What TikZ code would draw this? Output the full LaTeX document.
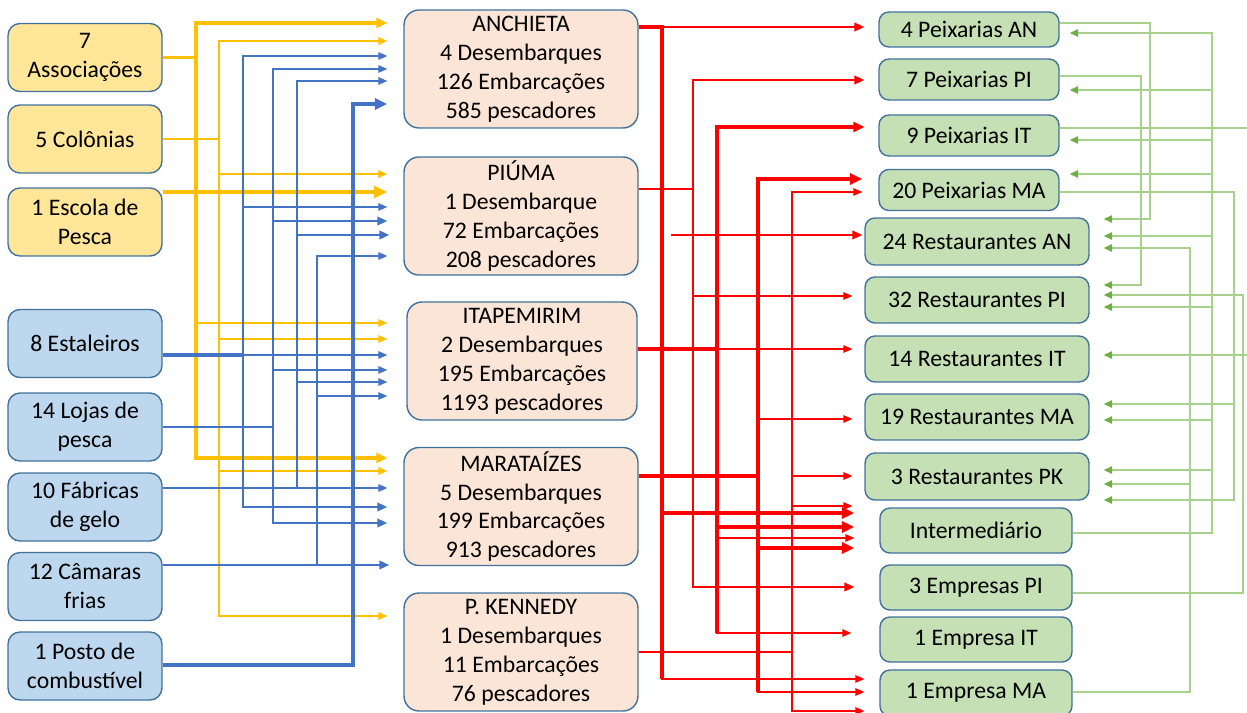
\documentclass[tikz,border=0pt]{standalone}
\usepackage{fontspec}
\setmainfont{Carlito}
\usepackage{tikz}
\usetikzlibrary{arrows.meta}

\definecolor{boxline}{HTML}{41719C}
\definecolor{ylwfill}{HTML}{FFE699}
\definecolor{blufill}{HTML}{BDD7EE}
\definecolor{portfill}{HTML}{FBE5D6}
\definecolor{grnfill}{HTML}{C5E0B4}
\definecolor{ylw}{HTML}{FFC000}
\definecolor{blu}{HTML}{4472C4}
\definecolor{grn}{HTML}{A9D18E}
\definecolor{grnhead}{HTML}{70AD47}

\tikzset{
  box/.style={draw=boxline,line width=0.8pt,align=center,inner sep=0pt,
    font=\fontsize{13.5}{16.5}\selectfont},
  supply/.style={box,fill=#1,rounded corners=0.24cm,minimum width=3.08cm,minimum height=1.36cm},
  port/.style={box,fill=portfill,rounded corners=0.3cm,minimum width=4.68cm,minimum height=2.36cm},
  buyer/.style={box,fill=grnfill,rounded corners=0.2cm,minimum width=#1,minimum height=0.82cm},
  fine/.style={line width=0.8pt,-{Triangle[length=0.18cm,width=0.15cm]}},
  mid/.style={line width=1.3pt,-{Triangle[length=0.2cm,width=0.17cm]}},
  bold/.style={line width=1.8pt,-{Triangle[length=0.22cm,width=0.2cm]}},
  heavy/.style={line width=2.3pt,-{Triangle[length=0.25cm,width=0.22cm]}},
  vheavy/.style={line width=2.8pt,-{Triangle[length=0.27cm,width=0.24cm]}},
  back/.style={grn,line width=0.8pt,-{Triangle[length=0.17cm,width=0.15cm,color=grnhead]}},
}

\begin{document}
\begin{tikzpicture}[x=0.02cm,y=-0.02cm]
  \useasboundingbox (0,0) rectangle (1247,713);

  % suppliers
  \node[supply=ylwfill] at (85,57.5) (assoc){7\\Associações};
  \node[supply=ylwfill] at (85,139) (colon){5 Colônias};
  \node[supply=ylwfill] at (85,222) (escola){1 Escola de\\Pesca};
  \node[supply=blufill] at (85,343.5) (estal){8 Estaleiros};
  \node[supply=blufill] at (85,427) (lojas){14 Lojas de\\pesca};
  \node[supply=blufill] at (85,507) (fabr){10 Fábricas\\de gelo};
  \node[supply=blufill] at (85,586.5) (camar){12 Câmaras\\frias};
  \node[supply=blufill] at (85,666) (posto){1 Posto de\\combustível};

  % ports
  \node[port] at (521,69) (anch){ANCHIETA\\4 Desembarques\\126 Embarcações\\585 pescadores};
  \node[port] at (521,216) (pium){PIÚMA\\1 Desembarque\\72 Embarcações\\208 pescadores};
  \node[port,minimum width=4.6cm] at (522,361) (itap){ITAPEMIRIM\\2 Desembarques\\195 Embarcações\\1193 pescadores};
  \node[port] at (521,506.5) (mara){MARATAÍZES\\5 Desembarques\\199 Embarcações\\913 pescadores};
  \node[port] at (521,652) (kenn){P. KENNEDY\\1 Desembarques\\11 Embarcações\\76 pescadores};

  % buyers
  \node[buyer=3.6cm,minimum height=0.7cm] at (969,29.5) (peixAN){4 Peixarias AN};
  \node[buyer=3.6cm] at (969,79.5) (peixPI){7 Peixarias PI};
  \node[buyer=3.6cm] at (969,135.5) (peixIT){9 Peixarias IT};
  \node[buyer=3.6cm] at (969,190) (peixMA){20 Peixarias MA};
  \node[buyer=4.48cm,minimum height=0.94cm] at (977,241.5) (restAN){24 Restaurantes AN};
  \node[buyer=4.48cm,minimum height=0.92cm] at (977,300) (restPI){32 Restaurantes PI};
  \node[buyer=4.48cm,minimum height=0.92cm] at (977,359) (restIT){14 Restaurantes IT};
  \node[buyer=4.48cm,minimum height=0.92cm] at (977,417) (restMA){19 Restaurantes MA};
  \node[buyer=4.48cm,minimum height=0.94cm] at (977,476.5) (restPK){3 Restaurantes PK};
  \node[buyer=3.84cm,minimum height=0.9cm] at (976,530.5) (inter){Intermediário};
  \node[buyer=3.84cm,minimum height=0.9cm] at (976,587.5) (empPI){3 Empresas PI};
  \node[buyer=3.84cm,minimum height=0.9cm] at (976,639.5) (empIT){1 Empresa IT};
  \node[buyer=3.84cm,minimum height=0.92cm] at (976,693) (empMA){1 Empresa MA};

  % yellow
  \draw [ylw,bold,shorten >=0.32cm] (assoc.east) -| (196,23) -- (anch.west |- 0,23);
  \draw [ylw,fine,shorten >=0.38cm] (assoc.east) -| (196,323) -- (itap.west |- 0,323);
  \draw [ylw,bold,shorten >=0.32cm] (assoc.east) -| (196,458) -- (mara.west |- 0,458);
  \draw [ylw,fine,shorten >=0.32cm] (colon.east) -| (219,41) -- (anch.west |- 0,41);
  \draw [ylw,fine,shorten >=0.32cm] (colon.east) -| (219,174) -- (pium.west |- 0,174);
  \draw [ylw,fine,shorten >=0.38cm] (colon.east) -| (219,339) -- (itap.west |- 0,339);
  \draw [ylw,fine,shorten >=0.32cm] (colon.east) -| (219,471) -- (mara.west |- 0,471);
  \draw [ylw,fine,shorten >=0.32cm] (colon.east) -| (219,616) -- (kenn.west |- 0,616);
  \draw [ylw,vheavy,shorten >=0.32cm] (escola.east |- 0,192) -- (pium.west |- 0,192);

  % blue
  \draw [blu,mid,-] (estal.east |- 0,355) -| (243,56);
  \draw [blu,fine,shorten >=0.32cm] (estal.east |- 0,355) -| (243,56) -- (anch.west |- 0,56);
  \draw [blu,fine,shorten >=0.32cm] (estal.east |- 0,355) -| (243,207) -- (pium.west |- 0,207);
  \draw [blu,fine,shorten >=0.38cm] (estal.east |- 0,355) -- (itap.west |- 0,355);
  \draw [blu,bold,-] (estal.east |- 0,355) -- (243,355);
  \draw [blu,mid,shorten >=0.32cm] (estal.east |- 0,355) -| (243,507) -- (mara.west |- 0,507);

  \draw [blu,mid,-] (lojas.east |- 0,427) -| (273,69);
  \draw [blu,fine,shorten >=0.32cm] (lojas.east |- 0,427) -| (273,69) -- (anch.west |- 0,69);
  \draw [blu,mid,shorten >=0.32cm] (lojas.east |- 0,427) -| (273,221) -- (pium.west |- 0,221);
  \draw [blu,fine,shorten >=0.38cm] (lojas.east |- 0,427) -| (273,370) -- (itap.west |- 0,370);
  \draw [blu,mid,shorten >=0.32cm] (lojas.east |- 0,427) -| (273,523) -- (mara.west |- 0,523);

  \draw [blu,mid,-] (fabr.east |- 0,488) -| (297,81);
  \draw [blu,fine,shorten >=0.32cm] (fabr.east |- 0,488) -| (297,81) -- (anch.west |- 0,81);
  \draw [blu,mid,shorten >=0.28cm] (fabr.east |- 0,488) -| (297,235) -- (pium.west |- 0,235);
  \draw [blu,fine,shorten >=0.38cm] (fabr.east |- 0,488) -| (297,382) -- (itap.west |- 0,382);
  \draw [blu,fine,shorten >=0.32cm] (fabr.east |- 0,488) -- (mara.west |- 0,488);

  \draw [blu,mid,-] (camar.east |- 0,565) -| (317,256);
  \draw [blu,fine,shorten >=0.32cm] (camar.east |- 0,565) -| (317,256) -- (pium.west |- 0,256);
  \draw [blu,fine,shorten >=0.38cm] (camar.east |- 0,565) -| (317,396) -- (itap.west |- 0,396);
  \draw [blu,mid,shorten >=0.28cm] (camar.east |- 0,565) -- (mara.west |- 0,565);

  \draw [blu,heavy,shorten >=0.32cm] (posto.east |- 0,665) -| (353,104) -- (anch.west |- 0,104);

  % red
  \draw [red,heavy,-] (anch.east |- 0,27) -| (662,679);
  \draw [red,mid,shorten >=0.28cm] (anch.east |- 0,27) -- (peixAN.west |- 0,27);
  \draw [red,heavy,shorten >=0.5cm] (anch.east |- 0,27) -| (662,513) -- (inter.west |- 0,513);
  \draw [red,fine,shorten >=0.3cm] (anch.east |- 0,27) -| (662,679) -- (empMA.west |- 0,679);
  \coordinate (loose) at (671,235);
  \draw [red,mid,shorten >=0.04cm] (loose) -- (restAN.west |- loose);

  \draw [red,mid,shorten >=0.28cm] (pium.east |- 0,189) -| (693,80) -- (peixPI.west |- 0,80);
  \draw [red,fine,shorten >=0.24cm] (pium.east |- 0,189) -| (693,296) -- (restPI.west |- 0,296);
  \draw [red,mid,shorten >=0.5cm] (pium.east |- 0,189) -| (693,587) -- (empPI.west |- 0,587);

  \draw [red,heavy,-] (itap.east |- 0,349) -| (717,633);
  \draw [red,bold,shorten >=0.28cm] (itap.east |- 0,349) -| (717,127) -- (peixIT.west |- 0,127);
  \draw [red,fine,shorten >=0.24cm] (itap.east |- 0,349) -- (restIT.west |- 0,349);
  \draw [red,heavy,shorten >=0.5cm] (itap.east |- 0,349) -| (717,527) -- (inter.west |- 0,527);
  \draw [red,fine,shorten >=0.5cm] (itap.east |- 0,349) -| (717,538) -- (inter.west |- 0,538);
  \draw [red,fine,shorten >=0.56cm] (itap.east |- 0,349) -| (717,633) -- (empIT.west |- 0,633);

  \draw [red,heavy,-] (mara.east |- 0,476) -| (758,692);
  \draw [red,heavy,shorten >=0.32cm] (mara.east |- 0,476) -| (758,179) -- (peixMA.west |- 0,179);
  \draw [red,fine,shorten >=0.24cm] (mara.east |- 0,476) -| (758,419) -- (restMA.west |- 0,419);
  \draw [red,heavy,shorten >=0.5cm] (mara.east |- 0,476) -| (758,548) -- (inter.west |- 0,548);
  \draw [red,fine,shorten >=0.3cm] (mara.east |- 0,476) -| (758,692) -- (empMA.west |- 0,692);

  \draw [red,fine,shorten >=0.32cm] (kenn.east |- 0,652) -| (792,192) -- (peixMA.west |- 0,192);
  \draw [red,fine,shorten >=0.24cm] (kenn.east |- 0,652) -| (792,476) -- (restPK.west |- 0,476);
  \draw [red,fine,shorten >=0.54cm] (kenn.east |- 0,652) -| (792,506) -- (inter.west |- 0,506);
  \draw [red,fine,shorten >=0.3cm] (kenn.east |- 0,652) -| (792,711) -- (empMA.west |- 0,711);

  % green, back to the buyers
  \draw [back,shorten >=0.28cm] (peixAN.east |- 0,23) -| (1150,219) -- (restAN.east |- 0,219);
  \draw [back,shorten >=0.28cm] (peixPI.east |- 0,76) -| (1141,285) -- (restPI.east |- 0,285);
  \draw [back,shorten >=0.28cm] (peixIT.east |- 0,128) -| (1262,355) -- (restIT.east |- 0,355);
  \draw [back,shorten >=0.28cm] (peixMA.east |- 0,192) -| (1234,404) -- (restMA.east |- 0,404);
  \draw [back,shorten >=0.28cm] (peixMA.east |- 0,192) -| (1234,500) -- (restPK.east |- 0,500);
  \draw [back,shorten >=0.2cm] (inter.east |- 0,533) -| (1212,33) -- (peixAN.east |- 0,33);
  \draw [back,shorten >=0.2cm] (inter.east |- 0,533) -| (1212,90) -- (peixPI.east |- 0,90);
  \draw [back,shorten >=0.2cm] (inter.east |- 0,533) -| (1212,140) -- (peixIT.east |- 0,140);
  \draw [back,shorten >=0.2cm] (inter.east |- 0,533) -| (1212,174) -- (peixMA.east |- 0,174);
  \draw [back,shorten >=0.28cm] (inter.east |- 0,533) -| (1212,236) -- (restAN.east |- 0,236);
  \draw [back,shorten >=0.28cm] (inter.east |- 0,533) -| (1212,307) -- (restPI.east |- 0,307);
  \draw [back,shorten >=0.28cm] (inter.east |- 0,533) -| (1212,420) -- (restMA.east |- 0,420);
  \draw [back,shorten >=0.28cm] (inter.east |- 0,533) -| (1212,470) -- (restPK.east |- 0,470);
  \draw [back,shorten >=0.28cm] (empPI.east |- 0,593) -| (1243,295) -- (restPI.east |- 0,295);
  \draw [back,shorten >=0.28cm] (empMA.east |- 0,692) -| (1190,248) -- (restAN.east |- 0,248);
  \draw [back,shorten >=0.28cm] (empMA.east |- 0,692) -| (1190,484) -- (restPK.east |- 0,484);

\end{tikzpicture}
\end{document}
